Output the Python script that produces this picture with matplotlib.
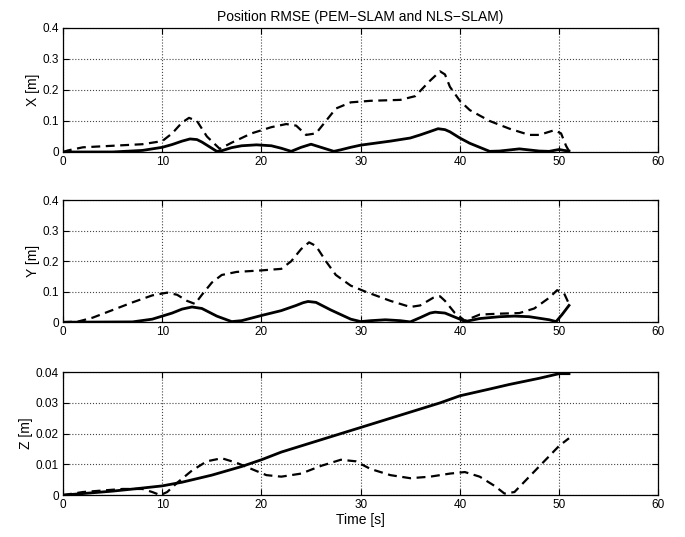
import matplotlib
matplotlib.use("Agg")
import matplotlib.pyplot as plt

plt.rcParams['font.family'] = ['Liberation Sans', 'DejaVu Sans']

# X error
tx_nls = [0, 5, 8, 10, 11, 12, 12.8, 13.5, 14, 15.5, 16, 17, 18, 19.5, 21, 22, 23, 24, 25,
          26, 27.3, 28, 29, 30, 33, 35, 36, 37, 37.8, 38.5, 39, 40, 41, 42, 43, 44, 46,
          48, 49, 50, 50.5, 51]
x_nls = [0, 0, 0.005, 0.015, 0.024, 0.035, 0.042, 0.04, 0.032, 0.002, 0.004, 0.014,
         0.02, 0.023, 0.02, 0.012, 0.002, 0.015, 0.025, 0.015, 0.002, 0.007, 0.015,
         0.022, 0.035, 0.045, 0.055, 0.066, 0.075, 0.072, 0.065, 0.045, 0.028, 0.015,
         0.002, 0.003, 0.01, 0.003, 0.002, 0.008, 0.005, 0.003]
tx_pem = [0, 0.5, 2, 5, 8, 10, 11, 12, 12.7, 13.5, 14.5, 15.8, 17, 19, 21, 22.5, 23.5,
          24.5, 25.5, 26.5, 27.5, 29, 31, 34, 35.5, 37, 38, 38.5, 39, 40, 41, 43, 45,
          47, 48, 49.5, 50.2, 50.7, 51]
x_pem = [0, 0.005, 0.015, 0.02, 0.025, 0.035, 0.06, 0.095, 0.11, 0.1, 0.05, 0.01, 0.03,
         0.06, 0.08, 0.09, 0.085, 0.055, 0.06, 0.1, 0.14, 0.16, 0.165, 0.168, 0.18, 0.23,
         0.26, 0.25, 0.21, 0.165, 0.135, 0.1, 0.075, 0.055, 0.055, 0.07, 0.06, 0.02, 0.003]

# Y error
ty_nls = [0, 7, 9, 11, 12, 13, 14, 15.5, 17, 18, 20, 22, 23.5, 24.2, 24.7, 25.5, 27, 29,
          30, 31, 32.5, 34, 35, 36, 37, 37.5, 38.5, 40, 40.5, 42, 44, 45.5, 47, 49, 49.7,
          50.3, 51]
y_nls = [0, 0.001, 0.01, 0.03, 0.043, 0.05, 0.045, 0.02, 0.002, 0.005, 0.022, 0.038,
         0.055, 0.064, 0.068, 0.065, 0.04, 0.01, 0.002, 0.005, 0.008, 0.005, 0.001, 0.015,
         0.03, 0.033, 0.03, 0.01, 0.002, 0.012, 0.018, 0.02, 0.018, 0.008, 0.002, 0.025,
         0.055]
ty_pem = [0, 1.5, 3, 5, 7, 9, 10.5, 11.5, 12.5, 13.3, 14, 15, 16, 17.5, 20, 22, 23, 24,
          24.8, 25.5, 26.5, 27.5, 29, 30.5, 33, 35, 36, 37.3, 38, 38.5, 39.5, 40.5, 42,
          44, 46, 47.5, 49, 49.8, 50.5, 51]
y_pem = [0, 0.002, 0.015, 0.04, 0.065, 0.088, 0.097, 0.09, 0.07, 0.06, 0.09, 0.13, 0.155,
         0.165, 0.17, 0.175, 0.2, 0.24, 0.262, 0.25, 0.2, 0.155, 0.12, 0.1, 0.07, 0.05,
         0.055, 0.08, 0.085, 0.07, 0.03, 0.005, 0.025, 0.028, 0.03, 0.045, 0.08, 0.105,
         0.095, 0.06]

# Z error
tz_nls = [0, 2, 5, 8, 10, 12, 15, 18, 20, 22, 25, 28, 30, 33, 35, 38, 40, 43, 45, 48, 50, 51]
z_nls = [0, 0.0005, 0.0013, 0.0023, 0.003, 0.0042, 0.0065, 0.0093, 0.0115, 0.014, 0.017,
         0.02, 0.022, 0.025, 0.027, 0.03, 0.0323, 0.0345, 0.036, 0.038, 0.0395, 0.0395]
tz_pem = [0, 2, 4, 6, 8, 9, 9.8, 10.5, 11.5, 13, 14.5, 16, 17.5, 19, 20.5, 22, 24, 26,
          28, 29.5, 31, 33, 35, 37, 39, 40.5, 42, 43.5, 44.5, 45.5, 47, 48.5, 50, 51]
z_pem = [0, 0.001, 0.0015, 0.002, 0.002, 0.001, 0.0, 0.001, 0.004, 0.008, 0.011, 0.012,
         0.0105, 0.0085, 0.0065, 0.006, 0.007, 0.0095, 0.0115, 0.011, 0.0085, 0.0065,
         0.0055, 0.006, 0.007, 0.0075, 0.006, 0.003, 0.0005, 0.001, 0.006, 0.011, 0.016,
         0.0185]

panels = [
    (tx_nls, x_nls, tx_pem, x_pem, 'X [m]', [0, 0.1, 0.2, 0.3, 0.4], ['0', '0.1', '0.2', '0.3', '0.4']),
    (ty_nls, y_nls, ty_pem, y_pem, 'Y [m]', [0, 0.1, 0.2, 0.3, 0.4], ['0', '0.1', '0.2', '0.3', '0.4']),
    (tz_nls, z_nls, tz_pem, z_pem, 'Z [m]', [0, 0.01, 0.02, 0.03, 0.04], ['0', '0.01', '0.02', '0.03', '0.04']),
]
boxes = [[0.092, 0.717, 0.869, 0.231],
         [0.092, 0.400, 0.869, 0.227],
         [0.092, 0.078, 0.869, 0.229]]

fig = plt.figure(figsize=(6.85, 5.37), dpi=100)

for box, (t1, v1, t2, v2, lab, yt, ytl) in zip(boxes, panels):
    ax = fig.add_axes(box)
    ax.plot(t1, v1, color='black', lw=2, solid_joinstyle='round')
    ax.plot(t2, v2, color='black', lw=1.6, ls=(0, (4, 2.5)), dash_joinstyle='round')
    ax.set_xlim(0, 60)
    ax.set_ylim(yt[0], yt[-1])
    ax.set_xticks([0, 10, 20, 30, 40, 50, 60])
    ax.set_yticks(yt)
    ax.set_yticklabels(ytl)
    ax.set_ylabel(lab, fontsize=10, labelpad=2)
    ax.grid(True, ls=':', color='#444444', lw=0.8)
    ax.tick_params(direction='in', top=True, right=True, length=4, labelsize=8.5, pad=3)
    for s in ax.spines.values():
        s.set_linewidth(0.9)
    if lab == 'X [m]':
        ax.set_title('Position RMSE (PEM\u2212SLAM and NLS\u2212SLAM)', fontsize=10, pad=5)
    if lab == 'Z [m]':
        ax.set_xlabel('Time [s]', fontsize=10, labelpad=1)

fig.savefig('out.png', dpi=100)
